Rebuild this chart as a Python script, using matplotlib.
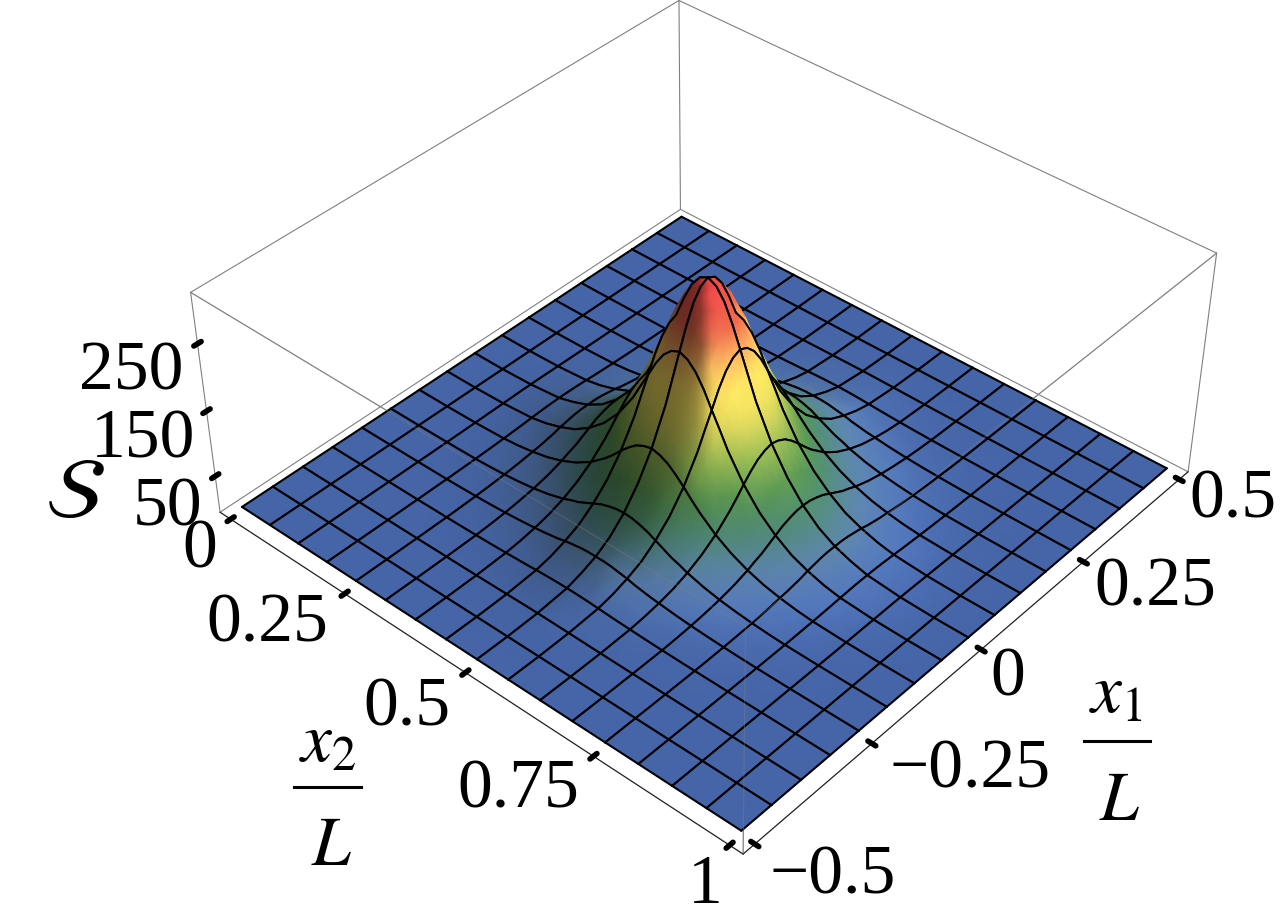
import numpy as np
import matplotlib
matplotlib.use("Agg")
import matplotlib.pyplot as plt
from matplotlib.collections import LineCollection
from mpl_toolkits.mplot3d import proj3d

plt.rcParams['font.family'] = ['Liberation Serif', 'DejaVu Serif']
plt.rcParams['mathtext.fontset'] = 'stix'

# offsets from the peak, in mesh cells (16 cells per L), and S read at those nodes
# (one quadrant, the peak is symmetric)
offsets_q = [0, .25, .5, .75, 1, 1.25, 1.5, 1.75, 2, 2.5, 3, 3.5, 4, 4.5, 5, 6, 7, 8]
s_quadrant = [
    [317, 311, 295, 269, 238, 206, 174, 149, 124, 86, 57, 36, 22, 13, 6.3, 1.6],
    [311, 304, 289, 264, 233, 202, 171, 146, 121, 84, 56, 36, 22, 12, 6.2, 1.6],
    [295, 289, 274, 251, 221, 192, 162, 139, 115, 80, 53, 34, 21, 12, 5.9, 1.5],
    [269, 264, 251, 229, 202, 175, 148, 127, 105, 73, 49, 31, 19, 11, 5.4, 1.3],
    [238, 233, 221, 202, 178, 155, 131, 112, 93, 64, 43, 27, 17, 9.5, 4.8, 1.2],
    [206, 202, 192, 175, 155, 134, 113, 97, 80, 56, 37, 24, 14, 8.2, 4.1, 1],
    [174, 171, 162, 148, 131, 113, 96, 82, 68, 47, 31, 20, 12, 7, 3.5, .9],
    [149, 146, 139, 127, 112, 97, 82, 70, 58, 40, 27, 17, 10, 6, 3, .7],
    [124, 121, 115, 105, 93, 80, 68, 58, 48, 33, 22, 14, 8.7, 4.9, 2.5, .6],
    [86, 84, 80, 73, 64, 56, 47, 40, 33, 23, 15, 9.8, 6, 3.4, 1.7, .4],
    [57, 56, 53, 49, 43, 37, 31, 27, 22, 15, 10, 6.6, 4, 2.3, 1.1, .3],
    [36, 36, 34, 31, 27, 24, 20, 17, 14, 9.8, 6.6, 4.2, 2.6, 1.5, .7, .2],
    [22, 22, 21, 19, 17, 14, 12, 10, 8.7, 6, 4, 2.6, 1.6, .9, .4, .1],
    [13, 12, 12, 11, 9.5, 8.2, 7, 6, 4.9, 3.4, 2.3, 1.5, .9, .5, .3, .1],
    [6.3, 6.2, 5.9, 5.4, 4.8, 4.1, 3.5, 3, 2.5, 1.7, 1.1, .7, .4, .3, .1, 0],
    [1.6, 1.6, 1.5, 1.3, 1.2, 1, .9, .7, .6, .4, .3, .2, .1, .1, 0, 0],
]
x1_ticks = [-0.5, -0.25, 0, 0.25, 0.5]
x1_labels = ['\u22120.5', '\u22120.25', '0', '0.25', '0.5']
x2_ticks = [0, 0.25, 0.5, 0.75, 1]
x2_labels = ['0', '0.25', '0.5', '0.75', '1']
s_ticks = [50, 150, 250]
s_labels = ['50', '150', '250']

# height colours
stop_h = [0, .06, .15, .25, .35, .5, .62, .72, .85, 1]
stop_r = [70, 85, 78, 85, 135, 220, 250, 243, 225, 238]
stop_g = [101, 120, 135, 145, 175, 210, 225, 185, 95, 70]
stop_b = [168, 160, 115, 80, 80, 90, 95, 95, 72, 72]

W_PX, H_PX = 1283, 923
PAD = 0.024
XLIM = (-0.5 - PAD, 0.5 + PAD)
YLIM = (1 + PAD, -PAD)
ZLIM = (-7, 324)

# camera
ELEV, AZIM, FOCAL, Z_ASPECT = 38.953, -138.648, 0.5594, 0.3992
AX_W, AX_CX, AX_CY = 1006.85, 694.3, 399.0

fig = plt.figure(figsize=(W_PX / 100, H_PX / 100), dpi=100)
ax3d = fig.add_axes([(AX_CX - AX_W / 2) / W_PX, 1 - (AX_CY + AX_W / 2) / H_PX, AX_W / W_PX, AX_W / H_PX],
                    projection='3d')
ax3d.set_xlim(*XLIM)
ax3d.set_ylim(*YLIM)
ax3d.set_zlim(*ZLIM)
ax3d.set_axis_off()
ax3d.view_init(elev=ELEV, azim=AZIM)
ax3d.set_proj_type('persp', focal_length=FOCAL)
ax3d.set_box_aspect((1, 1, Z_ASPECT))
ax3d.apply_aspect()
M = ax3d.get_proj()


def project(a, b, c):
    a, b, c = [np.ravel(v).astype(float) for v in (a, b, c)]
    xp, yp, _ = proj3d.proj_transform(a, b, c, M)
    out = ax3d.transData.transform(np.c_[xp, yp])
    return out[:, 0], H_PX - out[:, 1]


ax = fig.add_axes([0, 0, 1, 1])
ax.set_xlim(0, W_PX)
ax.set_ylim(H_PX, 0)
ax.set_autoscale_on(False)
ax.set_axis_off()

# full table
q = np.zeros((len(offsets_q), len(offsets_q)))
sq = np.array(s_quadrant)
q[:sq.shape[0], :sq.shape[1]] = sq
S = np.vstack([q[:0:-1], q])
S = np.hstack([S[:, :0:-1], S])
off = np.r_[-np.array(offsets_q)[:0:-1], offsets_q]
X1, X2 = np.meshgrid(off / 16, 0.5 + off / 16, indexing='ij')

# colours: height plus a light from the right of the picture
h = S / S.max()
rgb = np.dstack([np.interp(h, stop_h, c) for c in (stop_r, stop_g, stop_b)]) / 255
d1, d2 = np.gradient(S, off, off)
tilt = (d1 + d2) / np.sqrt((d1 + d2) ** 2 + 40 ** 2)
shade = np.where(tilt > 0, 1 - 0.55 * tilt, 1 - 0.07 * tilt)
# low parts on the far side of the light get a brighter blue
glow = np.clip(-d2 / 6, 0, 1) * np.clip(1 - h / 0.15, 0, 1)
shade = shade * (1 + 0.14 * glow)
rgb = np.clip(rgb * shade[..., None], 0, 1)

GRAY = '#808080'


def box_line(a, b, color=GRAY, lw=0.8, alpha=1, z=1):
    px, py = project([a[0], b[0]], [a[1], b[1]], [a[2], b[2]])
    ax.plot(px, py, color=color, lw=lw, alpha=alpha, zorder=z, solid_capstyle='round')


x0, x1 = XLIM
y0, y1 = YLIM  # y0 is x2 max
z0, z1 = ZLIM
back = [((x1, y1, z0), (x1, y1, z1)), ((x0, y1, z0), (x0, y1, z1)), ((x1, y0, z0), (x1, y0, z1)),
        ((x0, y1, z1), (x1, y1, z1)), ((x1, y0, z1), (x1, y1, z1)),
        ((x0, y1, z0), (x1, y1, z0)), ((x1, y1, z0), (x1, y0, z0))]
front = [((x0, y0, z0), (x0, y0, z1)), ((x0, y0, z1), (x0, y1, z1)), ((x0, y0, z1), (x1, y0, z1))]
for a, b in back + front:
    box_line(a, b)
box_line((x0, y0, z0), (x0, y1, z0), color='#202020', lw=0.9)
box_line((x0, y0, z0), (x1, y0, z0), color='#202020', lw=0.9)

# surface, back to front, one mesh cell at a time
whole = np.where(np.abs(off - np.round(off)) < 1e-9)[0]
zo = 2
for ia in range(len(whole) - 2, -1, -1):
    i0, i1 = whole[ia], whole[ia + 1]
    for ja in range(len(whole) - 1):
        j0, j1 = whole[ja], whole[ja + 1]
        a = X1[i0:i1 + 1, j0:j1 + 1]
        b = X2[i0:i1 + 1, j0:j1 + 1]
        c = S[i0:i1 + 1, j0:j1 + 1]
        px, py = project(a, b, c)
        px = px.reshape(a.shape)
        py = py.reshape(a.shape)
        ax.pcolormesh(px, py, rgb[i0:i1 + 1, j0:j1 + 1], shading='gouraud', zorder=zo)
        segs = [np.c_[px[0], py[0]], np.c_[px[-1], py[-1]], np.c_[px[:, 0], py[:, 0]], np.c_[px[:, -1], py[:, -1]]]
        ax.add_collection(LineCollection(segs, colors='k', linewidths=1.5, zorder=zo, capstyle='round'), autolim=False)
        zo += 1

for a, b in front:
    box_line(a, b, alpha=0.4, z=zo)

# tick marks
TICK = 0.007
for v in x2_ticks:
    px, py = project([x0 - TICK, x0 + TICK], [v, v], [z0, z0])
    ax.plot(px, py, color='k', lw=4, solid_capstyle='round', zorder=zo)
for v in x1_ticks:
    px, py = project([v, v], [y0 - TICK, y0 + TICK], [z0, z0])
    ax.plot(px, py, color='k', lw=4, solid_capstyle='round', zorder=zo)
for v in s_ticks:
    px, py = project([x0 - TICK, x0 + TICK], [y1, y1], [v, v])
    ax.plot(px, py, color='k', lw=4, solid_capstyle='round', zorder=zo)

# labels, centre x and baseline y in pixels
FS = 50
x1_label_xy = [(833, 893), (970, 787), (1008, 695), (1155, 605), (1233, 518)]
x2_label_xy = [(200, 567), (267, 642), (407, 725), (518, 808), (705, 903)]
s_label_xy = [(168, 525), (143, 458), (131, 390)]
for labels, xy in ((x1_labels, x1_label_xy), (x2_labels, x2_label_xy), (s_labels, s_label_xy)):
    for t, (lx, ly) in zip(labels, xy):
        ax.text(lx, ly, t, fontsize=FS, ha='center', va='baseline', zorder=zo)

ax.text(75, 518, r'$\mathcal{S}$', fontsize=62, ha='center', va='baseline', zorder=zo)
ax.text(1116, 713, r'$x_1$', fontsize=FS, ha='center', va='baseline', zorder=zo)
ax.plot([1084, 1150], [741, 741], color='k', lw=2.2, zorder=zo)
ax.text(1120, 820, r'$L$', fontsize=FS, ha='center', va='baseline', zorder=zo)
ax.text(328, 762, r'$x_2$', fontsize=FS, ha='center', va='baseline', zorder=zo)
ax.plot([294, 361], [787, 787], color='k', lw=2.2, zorder=zo)
ax.text(332, 865, r'$L$', fontsize=FS, ha='center', va='baseline', zorder=zo)

fig.savefig('out.png', dpi=100)
